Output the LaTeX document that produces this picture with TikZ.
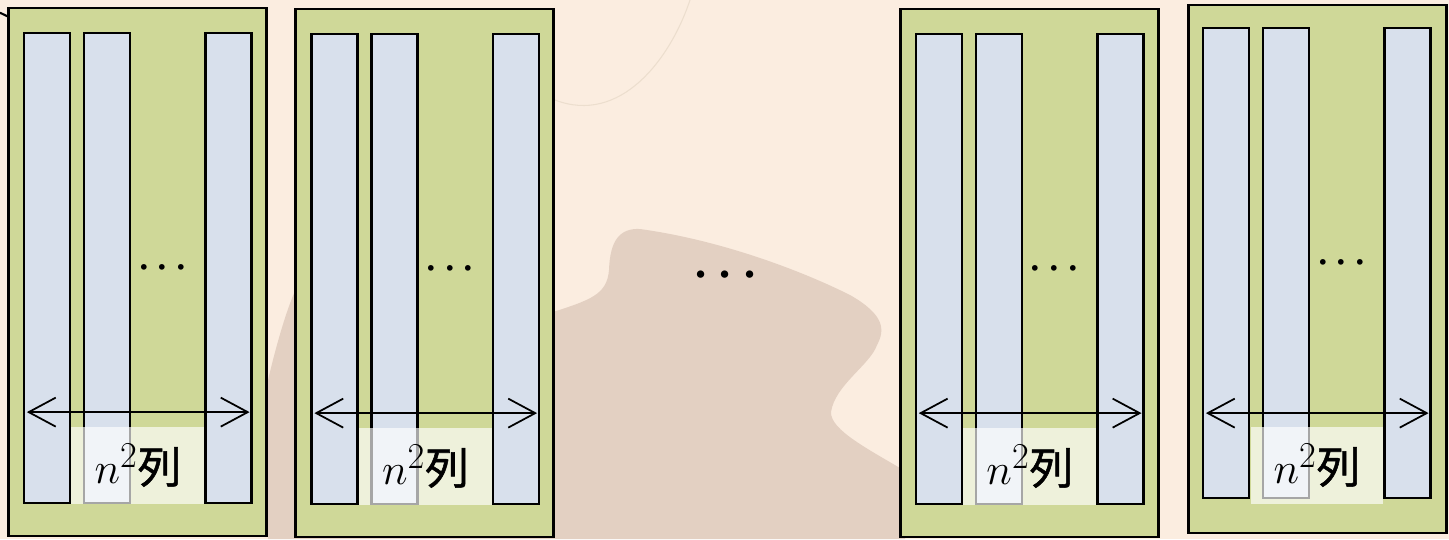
\documentclass[tikz,border=0pt]{standalone}
\usepackage{fix-cm}
\usepackage{amsmath}
\usepackage{fontspec}
\newfontfamily\cjk{Noto Sans CJK JP}[FakeBold=1.2]
\usetikzlibrary{arrows.meta,positioning}
\definecolor{slidebg}{RGB}{251,237,224}
\definecolor{slideblob}{RGB}{227,208,194}
\definecolor{slidearc}{RGB}{236,222,206}
\definecolor{tilegreen}{RGB}{207,216,152}
\definecolor{stripblue}{RGB}{216,224,236}

\begin{document}
\begin{tikzpicture}[x=0.02cm, y=-0.02cm, >={Straight Barb[length=0.54cm,width=0.58cm]}, node distance=1.2cm]
        \tikzstyle{tile}=[rectangle, draw, fill=tilegreen, line width=1.5pt, minimum width=5.16cm, minimum height=10.56cm, inner sep=0pt]
        \tikzstyle{strip}=[rectangle, draw, fill=stripblue, line width=1.3pt, minimum width=0.92cm, minimum height=9.4cm, inner sep=0pt]
        \tikzstyle{lab}=[rectangle, fill=white, fill opacity=0.65, text opacity=1, minimum width=2.66cm, minimum height=1.54cm, inner sep=0pt, anchor=south west, font=\Huge]
        \tikzstyle{hdots}=[inner sep=0pt, font=\huge]
        \tikzstyle{span}=[<->, line width=1pt]
        % slide background
        \fill[slidebg, use as bounding box] (0,0) rectangle (1449,539);
        \fill[slideblob] (268,539) -- (268,380) .. controls (280,330) and (290,300) .. (300,280) -- (550,313)
          .. controls (590,300) and (607,295) .. (609,270) .. controls (610,240) and (620,228) .. (640,229)
          .. controls (720,240) and (800,270) .. (850,295) .. controls (885,315) and (885,330) .. (877,345)
          .. controls (870,365) and (835,385) .. (831,412) .. controls (830,430) and (870,450) .. (905,471)
          -- (905,539) -- cycle;
        \draw[slidearc, line width=0.6pt] (555,100) .. controls (620,125) and (670,60) .. (690,0);
        % first block
        \node[tile] (p1) at (137.5,272) {};
        \coordinate (stub) at (0,12.7);
        \draw[line width=1.2pt] (stub) -- ([yshift=-0.19cm]p1.north west);
        \node[strip] (a1) at (47,268) {};
        \node[strip, right of=a1] (a2) {};
        \node[strip, right of=a2, node distance=2.43cm] (a3) {};
        \node[hdots, right of=a2, node distance=1.18cm] (ad) {$\boldsymbol{\cdots}$};
        \draw[span] ([xshift=0.08cm, yshift=1.84cm]a1.south west) -- ([xshift=-0.06cm, yshift=1.84cm]a3.south east);
        \node[lab] (al) at (a1.south east) {$n^2$\cjk 列};
        % second block
        \node[tile] (p2) at (424.5,273) {};
        \node[strip] (b1) at (334.5,269) {};
        \node[strip, right of=b1] (b2) {};
        \node[strip, right of=b2, node distance=2.43cm] (b3) {};
        \node[hdots, right of=b2, node distance=1.18cm] (bd) {$\boldsymbol{\cdots}$};
        \draw[span] ([xshift=0.08cm, yshift=1.84cm]b1.south west) -- ([xshift=-0.06cm, yshift=1.84cm]b3.south east);
        \node[lab] (bl) at (b1.south east) {$n^2$\cjk 列};
        % dots between
        \node[hdots, font=\fontsize{27}{32}\selectfont] (mid) at (730,275) {$\boldsymbol{\cdots}$};
        % third block
        \node[tile] (p3) at (1029.4,273) {};
        \node[strip] (c1) at (938.9,269) {};
        \node[strip, right of=c1] (c2) {};
        \node[strip, right of=c2, node distance=2.43cm] (c3) {};
        \node[hdots, right of=c2, node distance=1.18cm] (cd) {$\boldsymbol{\cdots}$};
        \draw[span] ([xshift=0.08cm, yshift=1.84cm]c1.south west) -- ([xshift=-0.06cm, yshift=1.84cm]c3.south east);
        \node[lab] (cl) at (c1.south east) {$n^2$\cjk 列};
        % last block
        \node[tile] (p4) at (1317.5,269) {};
        \node[strip] (d1) at (1226,263) {};
        \node[strip, right of=d1] (d2) {};
        \node[strip, right of=d2, node distance=2.43cm] (d3) {};
        \node[hdots, right of=d2, node distance=1.18cm] (dd) {$\boldsymbol{\cdots}$};
        \draw[span] ([xshift=0.08cm, yshift=1.72cm]d1.south west) -- ([xshift=-0.06cm, yshift=1.72cm]d3.south east);
        \node[lab, yshift=-0.1cm] (dl) at (d1.south east) {$n^2$\cjk 列};
\end{tikzpicture}
\end{document}
